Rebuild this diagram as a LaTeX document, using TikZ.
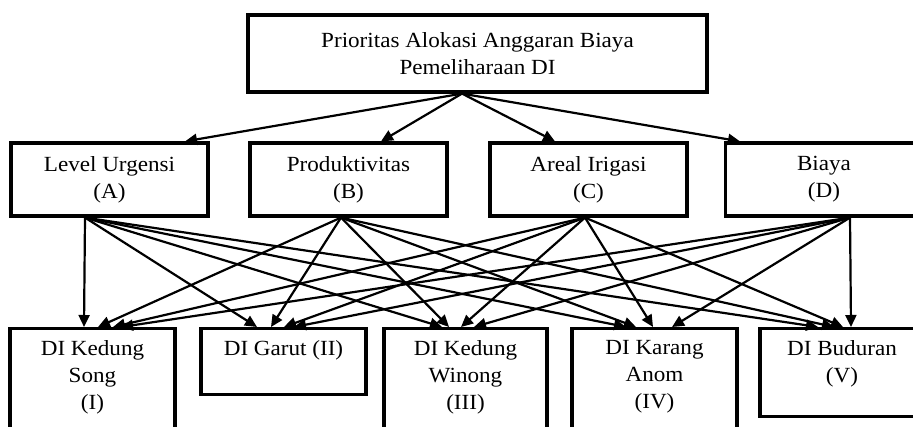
\documentclass[tikz,border=0pt]{standalone}
\usepackage{fontspec}
\setmainfont{Liberation Serif}[FakeStretch=1.07]
\usetikzlibrary{arrows.meta}

\begin{document}
\begin{tikzpicture}[x=0.5pt,y=-0.5pt,font=\fontsize{10.8}{13.5}\selectfont,
  box/.style={draw,line width=1.6pt,align=center},
  crit/.style={box,minimum width=98.5pt,minimum height=36.5pt},
  alt/.style={box,anchor=north,inner xsep=0pt,inner ysep=6pt},
  arr/.style={line width=1.1pt,-{Triangle[length=6pt,width=5.5pt]}}]
  \useasboundingbox (0,0) rectangle (913,427);
  \clip (0,0) rectangle (913,427);
  % goal
  \node[box,minimum width=229.5pt,minimum height=38.5pt] (goal) at (477.5,53.5) {Prioritas Alokasi Anggaran Biaya\\Pemeliharaan DI};
  % criteria
  \node[crit] (A) at (109.5,179.5) {Level Urgensi\\(A)};
  \node[crit] (B) at (348.5,179.5) {Produktivitas\\(B)};
  \node[crit] (C) at (588.5,179.5) {Areal Irigasi\\(C)};
  \node[crit] (D) at (824,179.5) {Biaya\\(D)};
  % alternatives
  \node[alt] (I) at (92.5,327) {\parbox[t][63pt][t]{82.5pt}{\centering DI Kedung\\Song\\(I)}};
  \node[alt] (II) at (283.5,327) {\parbox[t][21pt][t]{82.5pt}{\centering DI Garut (II)}};
  \node[alt] (III) at (465.5,327) {\parbox[t][63pt][t]{81.5pt}{\centering DI Kedung\\Winong\\(III)}};
  \node[alt] (IV) at (654.5,327) {\parbox[t][63pt][t]{82.5pt}{\centering DI Karang\\Anom\\(IV)}};
  \node[alt] (V) at (842,327) {\parbox[t][32pt][t]{82pt}{\centering DI Buduran\\(V)}};
  % goal -> criteria
  \foreach \tx/\t in {185/A,381/B,555/C,740/D}
    \draw[arr] (462,0 |- goal.south) -- (\tx,0 |- \t.north);
  % criteria -> alternatives
  \foreach \tx/\t in {84/I,257/II,442/III,626/IV,818/V}
    \draw[arr] (85,0 |- A.south) -- (\tx,0 |- \t.north);
  \foreach \tx/\t in {98/I,271/II,449/III,636/IV,834/V}
    \draw[arr] (341,0 |- B.south) -- (\tx,0 |- \t.north);
  \foreach \tx/\t in {113/I,284/II,461/III,653/IV,843/V}
    \draw[arr] (585,0 |- C.south) -- (\tx,0 |- \t.north);
  \foreach \tx/\t in {121/I,294/II,474/III,672/IV,851/V}
    \draw[arr] (850,0 |- D.south) -- (\tx,0 |- \t.north);
\end{tikzpicture}
\end{document}
